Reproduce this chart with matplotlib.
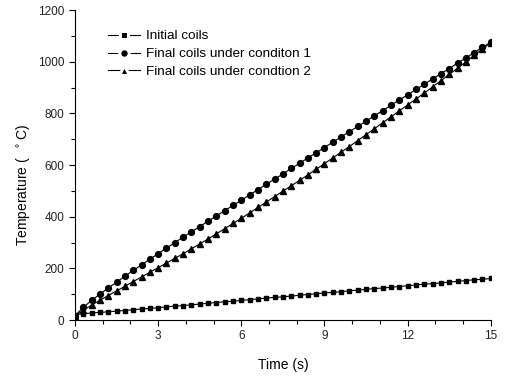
import matplotlib
matplotlib.use('Agg')
import matplotlib.pyplot as plt
from matplotlib.lines import Line2D
from matplotlib.legend_handler import HandlerTuple
from matplotlib.ticker import MultipleLocator
import numpy as np

plt.rcParams['font.family'] = ['Liberation Sans', 'DejaVu Sans']

# time axis, one reading every 0.3 s
time = np.round(np.arange(51) * 0.3, 1)

initial = [20, 25, 27, 30, 32, 35, 37, 40, 43, 45,
           48, 51, 54, 56, 59, 62, 65, 68, 71, 73,
           76, 79, 82, 85, 88, 90, 93, 96, 99, 102,
           105, 107, 110, 113, 116, 119, 122, 124, 127, 130,
           133, 136, 139, 141, 144, 147, 150, 153, 156, 158, 161]

cond1 = [17, 50, 76, 101, 124, 147, 170, 192, 214, 236,
         257, 279, 300, 321, 342, 362, 383, 403, 424, 444,
         464, 485, 505, 526, 546, 566, 587, 607, 628, 648,
         668, 689, 709, 730, 750, 770, 791, 811, 832, 852,
         872, 893, 913, 934, 954, 974, 995, 1015, 1036, 1056, 1076]

cond2 = [17, 38, 58, 77, 95, 113, 131, 149, 167, 185,
         203, 221, 239, 257, 276, 295, 314, 334, 354, 374,
         394, 415, 436, 457, 478, 499, 520, 541, 562, 584,
         606, 628, 650, 672, 695, 718, 741, 764, 787, 810,
         833, 856, 879, 903, 927, 951, 975, 1000, 1025, 1050, 1074]

labels = ['Initial coils', 'Final coils under conditon 1', 'Final coils under condtion 2']
markers = ['s', 'o', '^']
sizes = [2.6, 4.2, 4.6]

fig = plt.figure(figsize=(5.07, 3.77), dpi=100)
ax = fig.add_axes([0.148, 0.151, 0.820, 0.822])

for y, m, s in zip([initial, cond1, cond2], markers, sizes):
    ax.plot(time, y, color='black', lw=0.8, marker=m, ms=s)

ax.set_xlim(0, 15)
ax.set_ylim(0, 1200)
ax.xaxis.set_major_locator(MultipleLocator(3))
ax.xaxis.set_minor_locator(MultipleLocator(1))
ax.yaxis.set_major_locator(MultipleLocator(200))
ax.yaxis.set_minor_locator(MultipleLocator(100))
ax.tick_params(which='major', direction='out', length=4, width=0.8, labelsize=8.5,
               colors='black', labelcolor='#222222')
ax.tick_params(which='minor', direction='out', length=3, width=0.8)
ax.spines['top'].set_visible(False)
ax.spines['right'].set_visible(False)

ax.set_xlabel('Time (s)', fontsize=10, labelpad=11)
ax.set_ylabel(r'Temperature (  $^\circ$C)', fontsize=10)
ax.yaxis.set_label_coords(-0.103, 0.437)

# legend handles drawn Origin-style: line with a gap round the marker
handles = []
for m, s in zip(markers, sizes):
    ln = Line2D([], [], color='black', lw=0.8)
    mk = Line2D([], [], color='black', ls='none', marker=m, ms=s + 2.6,
                markeredgecolor='white', markeredgewidth=2.2)
    handles.append((ln, mk))

ax.legend(handles, labels, handler_map={tuple: HandlerTuple(ndivide=1)},
          loc='upper left', bbox_to_anchor=(0.049, 0.975), frameon=False,
          fontsize=9.7, handlelength=2.4, handletextpad=0.45, labelspacing=0.4)

fig.savefig('out.png', dpi=100)
